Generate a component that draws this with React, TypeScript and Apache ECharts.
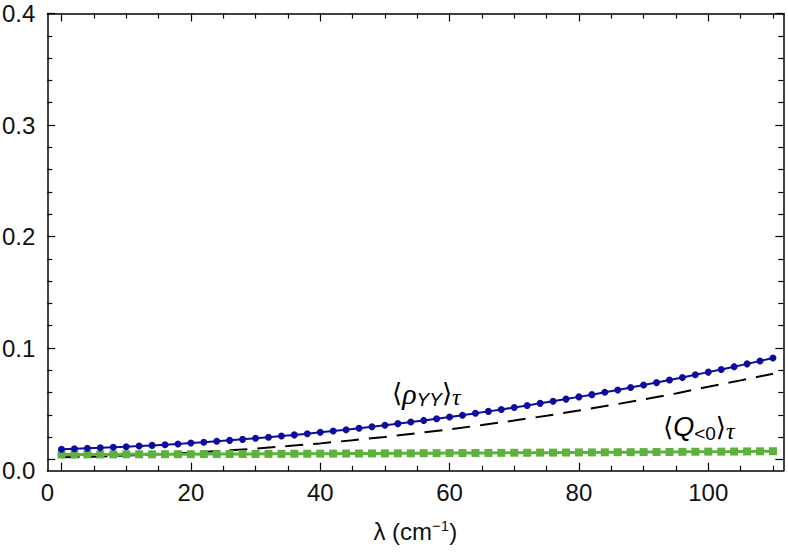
import React, { useEffect, useRef } from "react";
import * as echarts from "echarts";

const xValues = [0, 2, 4, 6, 8, 10, 12, 14, 16, 18, 20, 22, 24, 26, 28, 30, 32, 34, 36, 38, 40, 42, 44, 46, 48, 50, 52, 54, 56, 58, 60, 62, 64, 66, 68, 70, 72, 74, 76, 78, 80, 82, 84, 86, 88, 90, 92, 94, 96, 98, 100, 102, 104, 106, 108, 110];
const rhoValues = [0.0093, 0.0097, 0.0101, 0.0105, 0.011, 0.0115, 0.0121, 0.0127, 0.0133, 0.014, 0.0148, 0.0155, 0.0164, 0.0172, 0.0181, 0.0191, 0.02, 0.0211, 0.0221, 0.0232, 0.0244, 0.0256, 0.0268, 0.0281, 0.0294, 0.0308, 0.0322, 0.0336, 0.0351, 0.0366, 0.0382, 0.0398, 0.0415, 0.0432, 0.0449, 0.0467, 0.0485, 0.0504, 0.0523, 0.0542, 0.0562, 0.0582, 0.0603, 0.0624, 0.0646, 0.0668, 0.069, 0.0713, 0.0736, 0.076, 0.0784, 0.0808, 0.0833, 0.0858, 0.0884, 0.091];
const qValues = [0.0045, 0.0045, 0.0046, 0.0046, 0.0046, 0.0047, 0.0047, 0.0047, 0.0048, 0.0048, 0.0048, 0.0049, 0.0049, 0.005, 0.005, 0.005, 0.0051, 0.0051, 0.0052, 0.0052, 0.0053, 0.0053, 0.0054, 0.0054, 0.0055, 0.0055, 0.0056, 0.0056, 0.0057, 0.0057, 0.0058, 0.0058, 0.0059, 0.0059, 0.006, 0.0061, 0.0061, 0.0062, 0.0062, 0.0063, 0.0064, 0.0064, 0.0065, 0.0066, 0.0066, 0.0067, 0.0068, 0.0068, 0.0069, 0.007, 0.0071, 0.0071, 0.0072, 0.0073, 0.0074, 0.0075];
const dashX = [0, 5, 10, 15, 20, 25, 30, 35, 40, 45, 50, 55, 60, 65, 70, 75, 80, 85, 90, 95, 100, 105, 110];
const dashValues = [0.002, 0.0026, 0.0036, 0.0047, 0.0062, 0.0079, 0.0098, 0.0121, 0.0145, 0.0173, 0.0203, 0.0236, 0.0271, 0.0309, 0.035, 0.0393, 0.0439, 0.0488, 0.0539, 0.0593, 0.0652, 0.071, 0.077];

const xMajorTicks = [0, 20, 40, 60, 80, 100];
const xMinorTicks = [5, 10, 15, 25, 30, 35, 45, 50, 55, 65, 70, 75, 85, 90, 95, 105, 110];
const yMajorTicks = [0, 0.1, 0.2, 0.3, 0.4];
const yMinorTicks = [0.02, 0.04, 0.06, 0.08, 0.12, 0.14, 0.16, 0.18, 0.22, 0.24, 0.26, 0.28, 0.32, 0.34, 0.36, 0.38];

const rhoLabel = "{br|⟨}{g|ρ}{sub|YY}{br|⟩}{subg|τ}";
const qLabel = "{br|⟨}{q|Q}{subq|<0}{br|⟩}{subg|τ}";

const X_MIN = -2.2;
const X_MAX = 111.6;
const Y_MIN = -0.01;
const Y_MAX = 0.4;

const FONT = "'Liberation Sans', Arial, Helvetica, sans-serif";
const LINE = "#000";

function xAxisDef(position: string, ticks: number[], len: number, showLine: boolean, labels: boolean) {
  const ax: any = {
    type: "value",
    position,
    min: X_MIN,
    max: X_MAX,
    splitLine: { show: false },
    axisLine: { show: showLine, onZero: false, lineStyle: { color: LINE, width: 1.5 } },
    axisTick: { show: true, inside: true, length: len, customValues: ticks, lineStyle: { color: LINE, width: 1.2 } },
    axisLabel: { show: false },
  };
  if (labels) {
    ax.axisLabel = {
      show: true,
      customValues: xMajorTicks,
      margin: 10,
      fontFamily: FONT,
      fontSize: 24,
      color: "#111",
      formatter: (v: number) => (v === 0 ? "{z|0}" : "{n|" + String(v) + "}"),
      rich: {
        z: { fontFamily: FONT, fontSize: 24, color: "#111", padding: [0, 28, 0, 0] },
        n: { fontFamily: FONT, fontSize: 24, color: "#111" },
      },
    };
    ax.name = "{n|λ (cm}{sup|−1}{n|)}";
    ax.nameLocation = "middle";
    ax.nameGap = 47;
    ax.nameTextStyle = {
      rich: {
        n: { fontFamily: FONT, fontSize: 24, color: "#111", lineHeight: 28 },
        sup: { fontFamily: FONT, fontSize: 15, color: "#111", lineHeight: 14, verticalAlign: "top" },
      },
    };
  }
  return ax;
}

function yAxisDef(position: string, ticks: number[], len: number, showLine: boolean, labels: boolean) {
  const ax: any = {
    type: "value",
    position,
    min: Y_MIN,
    max: Y_MAX,
    splitLine: { show: false },
    axisLine: { show: showLine, onZero: false, lineStyle: { color: LINE, width: 1.5 } },
    axisTick: { show: true, inside: true, length: len, customValues: ticks, lineStyle: { color: LINE, width: 1.2 } },
    axisLabel: { show: false },
  };
  if (labels) {
    ax.axisLabel = {
      show: true,
      customValues: yMajorTicks,
      margin: 12,
      fontFamily: FONT,
      fontSize: 24,
      color: "#111",
      formatter: (v: number) => (v === 0 ? "{z|0.0}" : "{n|" + v.toFixed(1) + "}"),
      rich: {
        z: { fontFamily: FONT, fontSize: 24, color: "#111", padding: [22, 0, 0, 0] },
        n: { fontFamily: FONT, fontSize: 24, color: "#111" },
      },
    };
  }
  return ax;
}

const labelRich = {
  br: { fontFamily: "'DejaVu Sans', sans-serif", fontSize: 26, color: "#111", lineHeight: 32 },
  g: { fontFamily: "'Liberation Serif', serif", fontStyle: "italic", fontSize: 30, color: "#111", lineHeight: 32 },
  q: { fontFamily: FONT, fontStyle: "italic", fontSize: 27, color: "#111", lineHeight: 32 },
  sub: { fontFamily: FONT, fontStyle: "italic", fontSize: 19, color: "#111", lineHeight: 17, verticalAlign: "bottom" },
  subq: { fontFamily: FONT, fontSize: 19, color: "#111", lineHeight: 17, verticalAlign: "bottom" },
  subg: { fontFamily: "'Liberation Serif', serif", fontStyle: "italic", fontSize: 24, color: "#111", lineHeight: 19, verticalAlign: "bottom" },
};

export default function App() {
  const ref = useRef<HTMLDivElement>(null);
  useEffect(() => {
    if (!ref.current) return;
    const chart = echarts.init(ref.current, null, { renderer: "svg" });
    chart.setOption({
      animation: false,
      backgroundColor: "#fff",
      grid: { left: 47.3, right: 4.7, top: 13.5, bottom: 81.3, containLabel: false, outerBoundsMode: "none" },
      xAxis: [
        xAxisDef("bottom", xMajorTicks, 8, true, true),
        xAxisDef("bottom", xMinorTicks, 5, false, false),
        xAxisDef("top", xMajorTicks, 8, true, false),
        xAxisDef("top", xMinorTicks, 5, false, false),
      ],
      yAxis: [
        yAxisDef("left", yMajorTicks, 8, true, true),
        yAxisDef("left", yMinorTicks, 5, false, false),
        yAxisDef("right", yMajorTicks, 8, true, false),
        yAxisDef("right", yMinorTicks, 5, false, false),
      ],
      series: [
        {
          type: "line",
          name: "dashed",
          data: dashX.map((x, i) => [x, dashValues[i]]),
          showSymbol: false,
          symbol: "none",
          lineStyle: { color: "#000", width: 2, type: [18, 10] },
          z: 2,
        },
        {
          type: "line",
          name: "Q",
          data: xValues.map((x, i) => [x, qValues[i]]),
          symbol: "rect",
          symbolSize: 8,
          itemStyle: { color: "#5fb13e" },
          lineStyle: { color: "#5fb13e", width: 3 },
          z: 3,
        },
        {
          type: "line",
          name: "rho",
          data: xValues.map((x, i) => [x, rhoValues[i]]),
          symbol: "circle",
          symbolSize: 7,
          itemStyle: { color: "#0c0ca0" },
          lineStyle: { color: "#0c0ca0", width: 2 },
          z: 4,
        },
      ],
      graphic: [
        { type: "text", x: 392, y: 377, style: { text: rhoLabel, rich: labelRich } },
        { type: "text", x: 663, y: 411, style: { text: qLabel, rich: labelRich } },
      ],
    });
    return () => chart.dispose();
  }, []);
  return <div ref={ref} style={{ position: "absolute", left: 0, top: 0, width: 788, height: 552 }} />;
}
